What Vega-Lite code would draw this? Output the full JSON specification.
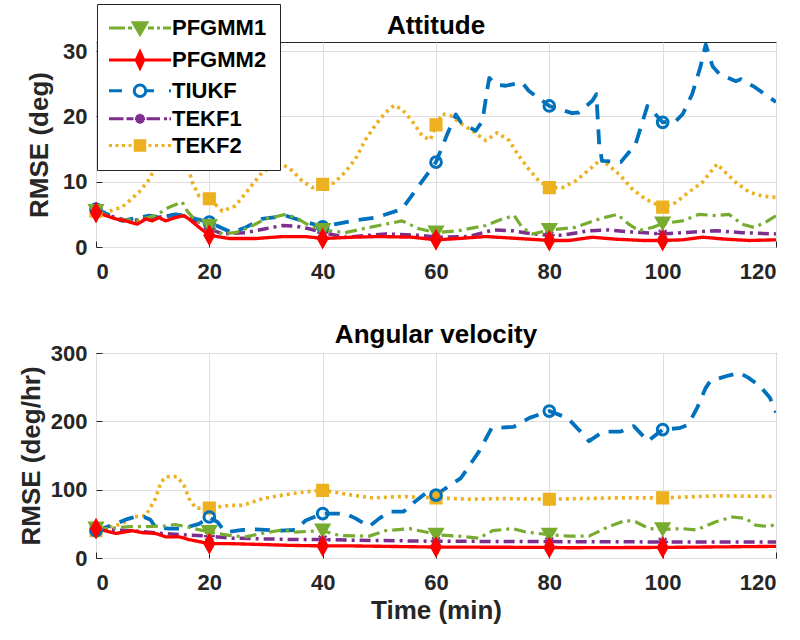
{
"$schema": "https://vega.github.io/schema/vega-lite/v6.json",
"background": "white",
"padding": {"left": 17, "top": 3, "right": 10, "bottom": 5},
"config": {
  "font": "Liberation Sans",
  "view": {"stroke": "#262626", "strokeWidth": 1},
  "axis": {"domain": false, "grid": true, "gridColor": "#DEDEDE", "gridOpacity": 1, "tickColor": "#262626", "tickSize": -6, "tickWidth": 1, "labelFont": "Liberation Sans", "labelFontWeight": "bold", "labelFontSize": 22, "labelColor": "#262626", "titleFont": "Liberation Sans", "titleFontWeight": "bold", "titleFontSize": 26, "titleColor": "#262626"},
  "axisX": {"labelPadding": 20, "titlePadding": 4},
  "axisY": {"labelPadding": 15},
  "title": {"font": "Liberation Sans", "fontSize": 26, "fontWeight": "bold", "color": "black", "offset": 4, "frame": "group"},
  "legend": {"labelFont": "Liberation Sans", "labelFontSize": 22, "labelFontWeight": "bold", "labelColor": "black", "symbolSize": 100, "symbolStrokeWidth": 3, "symbolOffset": 19, "labelOffset": 21, "rowPadding": 4.9, "padding": 13, "fillColor": "white", "strokeColor": "#262626", "symbolOpacity": 1, "labelLimit": 300}
},
"datasets": {
"d": [
{"p":"A","s":"TEKF2","t":0,"v":5.5},{"p":"A","s":"TEKF2","t":1.7,"v":5.3},{"p":"A","s":"TEKF2","t":4.6,"v":6.1},{"p":"A","s":"TEKF2","t":7.6,"v":8.4},{"p":"A","s":"TEKF2","t":9.4,"v":10.4},{"p":"A","s":"TEKF2","t":10.8,"v":12.7},{"p":"A","s":"TEKF2","t":12.5,"v":15.0},{"p":"A","s":"TEKF2","t":13.8,"v":16.0},{"p":"A","s":"TEKF2","t":15.0,"v":14.5},{"p":"A","s":"TEKF2","t":16.1,"v":12.7},{"p":"A","s":"TEKF2","t":17,"v":9.9},{"p":"A","s":"TEKF2","t":18.2,"v":7.8},{"p":"A","s":"TEKF2","t":20,"v":7.4},{"p":"A","s":"TEKF2","t":22.3,"v":5.5},{"p":"A","s":"TEKF2","t":24.6,"v":6.3},{"p":"A","s":"TEKF2","t":27,"v":8.9},{"p":"A","s":"TEKF2","t":29.3,"v":11.4},{"p":"A","s":"TEKF2","t":30.8,"v":12.2},{"p":"A","s":"TEKF2","t":32.9,"v":12.7},{"p":"A","s":"TEKF2","t":34.6,"v":11.7},{"p":"A","s":"TEKF2","t":36.4,"v":10.1},{"p":"A","s":"TEKF2","t":38.2,"v":9.1},{"p":"A","s":"TEKF2","t":40,"v":9.6},{"p":"A","s":"TEKF2","t":42,"v":9.8},{"p":"A","s":"TEKF2","t":44,"v":11.5},{"p":"A","s":"TEKF2","t":45.8,"v":13.5},{"p":"A","s":"TEKF2","t":47.6,"v":16.5},{"p":"A","s":"TEKF2","t":49.4,"v":18.8},{"p":"A","s":"TEKF2","t":51.1,"v":20.6},{"p":"A","s":"TEKF2","t":52.6,"v":21.7},{"p":"A","s":"TEKF2","t":54,"v":21.1},{"p":"A","s":"TEKF2","t":55.8,"v":19.3},{"p":"A","s":"TEKF2","t":57.6,"v":17.0},{"p":"A","s":"TEKF2","t":59,"v":16.4},{"p":"A","s":"TEKF2","t":60,"v":18.7},{"p":"A","s":"TEKF2","t":61.1,"v":20.4},{"p":"A","s":"TEKF2","t":62.6,"v":20.1},{"p":"A","s":"TEKF2","t":64.6,"v":18.8},{"p":"A","s":"TEKF2","t":66.4,"v":17.8},{"p":"A","s":"TEKF2","t":68.8,"v":16.3},{"p":"A","s":"TEKF2","t":70.8,"v":17.5},{"p":"A","s":"TEKF2","t":72.9,"v":16.3},{"p":"A","s":"TEKF2","t":74.6,"v":14.0},{"p":"A","s":"TEKF2","t":76.4,"v":11.9},{"p":"A","s":"TEKF2","t":78.2,"v":10.1},{"p":"A","s":"TEKF2","t":80,"v":9.1},{"p":"A","s":"TEKF2","t":82.3,"v":9.1},{"p":"A","s":"TEKF2","t":84.6,"v":10.1},{"p":"A","s":"TEKF2","t":86.4,"v":11.4},{"p":"A","s":"TEKF2","t":88.2,"v":12.7},{"p":"A","s":"TEKF2","t":89,"v":13.5},{"p":"A","s":"TEKF2","t":90.5,"v":12.5},{"p":"A","s":"TEKF2","t":92.6,"v":10.9},{"p":"A","s":"TEKF2","t":94.6,"v":8.9},{"p":"A","s":"TEKF2","t":97,"v":7.3},{"p":"A","s":"TEKF2","t":100,"v":6.1},{"p":"A","s":"TEKF2","t":102.3,"v":6.8},{"p":"A","s":"TEKF2","t":104.6,"v":8.4},{"p":"A","s":"TEKF2","t":107,"v":9.9},{"p":"A","s":"TEKF2","t":108.2,"v":11.2},{"p":"A","s":"TEKF2","t":109.6,"v":12.7},{"p":"A","s":"TEKF2","t":111.1,"v":11.4},{"p":"A","s":"TEKF2","t":112.9,"v":9.9},{"p":"A","s":"TEKF2","t":115.3,"v":8.4},{"p":"A","s":"TEKF2","t":117.6,"v":7.8},{"p":"A","s":"TEKF2","t":120,"v":7.6},

{"p":"A","s":"TEKF1","t":0,"v":5.3},{"p":"A","s":"TEKF1","t":2.3,"v":4.8},{"p":"A","s":"TEKF1","t":5.8,"v":4.0},{"p":"A","s":"TEKF1","t":10.5,"v":4.5},{"p":"A","s":"TEKF1","t":14.6,"v":5.0},{"p":"A","s":"TEKF1","t":16.4,"v":4.5},{"p":"A","s":"TEKF1","t":18.2,"v":3.8},{"p":"A","s":"TEKF1","t":20,"v":2.8},{"p":"A","s":"TEKF1","t":22.3,"v":2.0},{"p":"A","s":"TEKF1","t":26.4,"v":2.2},{"p":"A","s":"TEKF1","t":29.9,"v":2.8},{"p":"A","s":"TEKF1","t":32.9,"v":3.3},{"p":"A","s":"TEKF1","t":35.2,"v":3.2},{"p":"A","s":"TEKF1","t":37.6,"v":2.8},{"p":"A","s":"TEKF1","t":40,"v":2.2},{"p":"A","s":"TEKF1","t":44,"v":1.5},{"p":"A","s":"TEKF1","t":51.1,"v":2.0},{"p":"A","s":"TEKF1","t":57,"v":1.8},{"p":"A","s":"TEKF1","t":60,"v":1.5},{"p":"A","s":"TEKF1","t":65.8,"v":1.6},{"p":"A","s":"TEKF1","t":70,"v":2.6},{"p":"A","s":"TEKF1","t":73.5,"v":2.5},{"p":"A","s":"TEKF1","t":77,"v":2.0},{"p":"A","s":"TEKF1","t":80,"v":1.8},{"p":"A","s":"TEKF1","t":82.3,"v":1.8},{"p":"A","s":"TEKF1","t":87,"v":2.5},{"p":"A","s":"TEKF1","t":90.5,"v":2.6},{"p":"A","s":"TEKF1","t":94.6,"v":2.3},{"p":"A","s":"TEKF1","t":100,"v":2.0},{"p":"A","s":"TEKF1","t":103.5,"v":2.2},{"p":"A","s":"TEKF1","t":109.4,"v":2.5},{"p":"A","s":"TEKF1","t":114,"v":2.2},{"p":"A","s":"TEKF1","t":120,"v":2.0},

{"p":"A","s":"TIUKF","t":0,"v":5.8},{"p":"A","s":"TIUKF","t":4.6,"v":4.0},{"p":"A","s":"TIUKF","t":9.4,"v":4.8},{"p":"A","s":"TIUKF","t":11.4,"v":4.5},{"p":"A","s":"TIUKF","t":14,"v":5.0},{"p":"A","s":"TIUKF","t":15.8,"v":4.8},{"p":"A","s":"TIUKF","t":17.6,"v":4.3},{"p":"A","s":"TIUKF","t":20,"v":3.8},{"p":"A","s":"TIUKF","t":22,"v":3.0},{"p":"A","s":"TIUKF","t":24,"v":2.2},{"p":"A","s":"TIUKF","t":26.4,"v":3.0},{"p":"A","s":"TIUKF","t":29.3,"v":4.3},{"p":"A","s":"TIUKF","t":33.5,"v":4.8},{"p":"A","s":"TIUKF","t":36.4,"v":4.0},{"p":"A","s":"TIUKF","t":40,"v":3.1},{"p":"A","s":"TIUKF","t":42.3,"v":3.5},{"p":"A","s":"TIUKF","t":45.2,"v":4.0},{"p":"A","s":"TIUKF","t":49.4,"v":4.5},{"p":"A","s":"TIUKF","t":54,"v":5.8},{"p":"A","s":"TIUKF","t":57,"v":9.4},{"p":"A","s":"TIUKF","t":60,"v":13.0},{"p":"A","s":"TIUKF","t":62,"v":17.3},{"p":"A","s":"TIUKF","t":63.5,"v":20.3},{"p":"A","s":"TIUKF","t":64.4,"v":19.1},{"p":"A","s":"TIUKF","t":67,"v":17.8},{"p":"A","s":"TIUKF","t":68.2,"v":19.3},{"p":"A","s":"TIUKF","t":69,"v":23.9},{"p":"A","s":"TIUKF","t":69.4,"v":25.9},{"p":"A","s":"TIUKF","t":70.5,"v":24.9},{"p":"A","s":"TIUKF","t":72.3,"v":24.7},{"p":"A","s":"TIUKF","t":75.2,"v":25.2},{"p":"A","s":"TIUKF","t":76.4,"v":23.9},{"p":"A","s":"TIUKF","t":80,"v":21.6},{"p":"A","s":"TIUKF","t":84,"v":20.5},{"p":"A","s":"TIUKF","t":85.2,"v":20.6},{"p":"A","s":"TIUKF","t":87.6,"v":22.4},{"p":"A","s":"TIUKF","t":88.3,"v":23.4},{"p":"A","s":"TIUKF","t":88.5,"v":20.3},{"p":"A","s":"TIUKF","t":88.8,"v":15.7},{"p":"A","s":"TIUKF","t":89.3,"v":13.2},{"p":"A","s":"TIUKF","t":92.6,"v":13.0},{"p":"A","s":"TIUKF","t":95.2,"v":15.7},{"p":"A","s":"TIUKF","t":97.3,"v":21.6},{"p":"A","s":"TIUKF","t":98.2,"v":20.8},{"p":"A","s":"TIUKF","t":100,"v":19.1},{"p":"A","s":"TIUKF","t":102.3,"v":19.3},{"p":"A","s":"TIUKF","t":103.5,"v":20.3},{"p":"A","s":"TIUKF","t":105.2,"v":23.4},{"p":"A","s":"TIUKF","t":106.7,"v":27.7},{"p":"A","s":"TIUKF","t":107.6,"v":31.0},{"p":"A","s":"TIUKF","t":108.8,"v":27.7},{"p":"A","s":"TIUKF","t":110,"v":26.5},{"p":"A","s":"TIUKF","t":112.9,"v":25.4},{"p":"A","s":"TIUKF","t":113.8,"v":25.7},{"p":"A","s":"TIUKF","t":116.4,"v":24.4},{"p":"A","s":"TIUKF","t":120,"v":22.2},

{"p":"A","s":"PFGMM1","t":0,"v":5.5},{"p":"A","s":"PFGMM1","t":3.5,"v":4.3},{"p":"A","s":"PFGMM1","t":7,"v":4.0},{"p":"A","s":"PFGMM1","t":10.5,"v":4.8},{"p":"A","s":"PFGMM1","t":12.9,"v":6.1},{"p":"A","s":"PFGMM1","t":15.2,"v":6.9},{"p":"A","s":"PFGMM1","t":16.1,"v":5.5},{"p":"A","s":"PFGMM1","t":17.6,"v":4.0},{"p":"A","s":"PFGMM1","t":20,"v":3.2},{"p":"A","s":"PFGMM1","t":22.3,"v":2.0},{"p":"A","s":"PFGMM1","t":24.6,"v":2.2},{"p":"A","s":"PFGMM1","t":27,"v":3.0},{"p":"A","s":"PFGMM1","t":29.9,"v":4.3},{"p":"A","s":"PFGMM1","t":33.5,"v":5.0},{"p":"A","s":"PFGMM1","t":35.2,"v":4.5},{"p":"A","s":"PFGMM1","t":37.6,"v":3.3},{"p":"A","s":"PFGMM1","t":40,"v":2.6},{"p":"A","s":"PFGMM1","t":44,"v":2.2},{"p":"A","s":"PFGMM1","t":48.2,"v":3.0},{"p":"A","s":"PFGMM1","t":54,"v":4.0},{"p":"A","s":"PFGMM1","t":57,"v":2.8},{"p":"A","s":"PFGMM1","t":60,"v":2.2},{"p":"A","s":"PFGMM1","t":64,"v":2.5},{"p":"A","s":"PFGMM1","t":68.8,"v":3.3},{"p":"A","s":"PFGMM1","t":71.7,"v":4.3},{"p":"A","s":"PFGMM1","t":73.8,"v":4.8},{"p":"A","s":"PFGMM1","t":75.2,"v":3.0},{"p":"A","s":"PFGMM1","t":77,"v":2.0},{"p":"A","s":"PFGMM1","t":80,"v":2.6},{"p":"A","s":"PFGMM1","t":84.6,"v":3.0},{"p":"A","s":"PFGMM1","t":88.8,"v":4.3},{"p":"A","s":"PFGMM1","t":92,"v":5.0},{"p":"A","s":"PFGMM1","t":94,"v":3.5},{"p":"A","s":"PFGMM1","t":95.8,"v":2.5},{"p":"A","s":"PFGMM1","t":98.2,"v":3.0},{"p":"A","s":"PFGMM1","t":100,"v":3.6},{"p":"A","s":"PFGMM1","t":103.5,"v":4.0},{"p":"A","s":"PFGMM1","t":106.4,"v":5.0},{"p":"A","s":"PFGMM1","t":109.4,"v":4.8},{"p":"A","s":"PFGMM1","t":111.7,"v":5.0},{"p":"A","s":"PFGMM1","t":114,"v":3.5},{"p":"A","s":"PFGMM1","t":116.1,"v":3.0},{"p":"A","s":"PFGMM1","t":118.2,"v":3.8},{"p":"A","s":"PFGMM1","t":120,"v":4.8},

{"p":"A","s":"PFGMM2","t":0,"v":5.3},{"p":"A","s":"PFGMM2","t":1.1,"v":5.0},{"p":"A","s":"PFGMM2","t":3.5,"v":4.3},{"p":"A","s":"PFGMM2","t":5.2,"v":4.0},{"p":"A","s":"PFGMM2","t":7.3,"v":3.5},{"p":"A","s":"PFGMM2","t":8.8,"v":4.3},{"p":"A","s":"PFGMM2","t":9.9,"v":4.0},{"p":"A","s":"PFGMM2","t":11.1,"v":4.5},{"p":"A","s":"PFGMM2","t":12.3,"v":4.0},{"p":"A","s":"PFGMM2","t":14,"v":4.5},{"p":"A","s":"PFGMM2","t":15.5,"v":4.8},{"p":"A","s":"PFGMM2","t":16.4,"v":4.3},{"p":"A","s":"PFGMM2","t":18.2,"v":3.0},{"p":"A","s":"PFGMM2","t":20,"v":1.8},{"p":"A","s":"PFGMM2","t":23.5,"v":1.3},{"p":"A","s":"PFGMM2","t":28.2,"v":1.3},{"p":"A","s":"PFGMM2","t":32.9,"v":1.6},{"p":"A","s":"PFGMM2","t":37,"v":1.6},{"p":"A","s":"PFGMM2","t":40,"v":1.3},{"p":"A","s":"PFGMM2","t":45.2,"v":1.5},{"p":"A","s":"PFGMM2","t":50,"v":1.6},{"p":"A","s":"PFGMM2","t":55.8,"v":1.5},{"p":"A","s":"PFGMM2","t":60,"v":1.1},{"p":"A","s":"PFGMM2","t":64,"v":1.3},{"p":"A","s":"PFGMM2","t":68.8,"v":1.6},{"p":"A","s":"PFGMM2","t":74.6,"v":1.3},{"p":"A","s":"PFGMM2","t":80,"v":1.0},{"p":"A","s":"PFGMM2","t":83.5,"v":1.0},{"p":"A","s":"PFGMM2","t":87.6,"v":1.5},{"p":"A","s":"PFGMM2","t":91.7,"v":1.2},{"p":"A","s":"PFGMM2","t":96.4,"v":1.0},{"p":"A","s":"PFGMM2","t":100,"v":1.0},{"p":"A","s":"PFGMM2","t":103.5,"v":1.1},{"p":"A","s":"PFGMM2","t":107,"v":1.5},{"p":"A","s":"PFGMM2","t":111.1,"v":1.2},{"p":"A","s":"PFGMM2","t":115.3,"v":1.0},{"p":"A","s":"PFGMM2","t":120,"v":1.1},

{"p":"B","s":"TEKF2","t":0,"v":40},{"p":"B","s":"TEKF2","t":4.6,"v":50},{"p":"B","s":"TEKF2","t":6.4,"v":60},{"p":"B","s":"TEKF2","t":8.8,"v":62},{"p":"B","s":"TEKF2","t":10.5,"v":87},{"p":"B","s":"TEKF2","t":11.4,"v":110},{"p":"B","s":"TEKF2","t":12.3,"v":119},{"p":"B","s":"TEKF2","t":14.3,"v":119},{"p":"B","s":"TEKF2","t":15.5,"v":107},{"p":"B","s":"TEKF2","t":16.4,"v":87},{"p":"B","s":"TEKF2","t":17.6,"v":73},{"p":"B","s":"TEKF2","t":20,"v":73},{"p":"B","s":"TEKF2","t":23.5,"v":77},{"p":"B","s":"TEKF2","t":25.9,"v":77},{"p":"B","s":"TEKF2","t":29.4,"v":87},{"p":"B","s":"TEKF2","t":32.9,"v":92},{"p":"B","s":"TEKF2","t":37,"v":97},{"p":"B","s":"TEKF2","t":40,"v":99},{"p":"B","s":"TEKF2","t":41.6,"v":97},{"p":"B","s":"TEKF2","t":45.2,"v":92},{"p":"B","s":"TEKF2","t":48.8,"v":88},{"p":"B","s":"TEKF2","t":54,"v":90},{"p":"B","s":"TEKF2","t":60,"v":88},{"p":"B","s":"TEKF2","t":65.8,"v":86},{"p":"B","s":"TEKF2","t":71.7,"v":87},{"p":"B","s":"TEKF2","t":80,"v":86},{"p":"B","s":"TEKF2","t":91.7,"v":88},{"p":"B","s":"TEKF2","t":100,"v":88},{"p":"B","s":"TEKF2","t":109.4,"v":91},{"p":"B","s":"TEKF2","t":120,"v":90},

{"p":"B","s":"TEKF1","t":0,"v":43},{"p":"B","s":"TEKF1","t":3.5,"v":41},{"p":"B","s":"TEKF1","t":7.6,"v":39},{"p":"B","s":"TEKF1","t":11.6,"v":36},{"p":"B","s":"TEKF1","t":15.2,"v":34},{"p":"B","s":"TEKF1","t":20,"v":32},{"p":"B","s":"TEKF1","t":24,"v":29},{"p":"B","s":"TEKF1","t":29.4,"v":28},{"p":"B","s":"TEKF1","t":35.2,"v":27},{"p":"B","s":"TEKF1","t":40,"v":27},{"p":"B","s":"TEKF1","t":45.2,"v":26},{"p":"B","s":"TEKF1","t":60,"v":24.5},{"p":"B","s":"TEKF1","t":80,"v":24},{"p":"B","s":"TEKF1","t":100,"v":23.5},{"p":"B","s":"TEKF1","t":120,"v":23.5},

{"p":"B","s":"TIUKF","t":0,"v":40},{"p":"B","s":"TIUKF","t":3.5,"v":50},{"p":"B","s":"TIUKF","t":5.5,"v":57},{"p":"B","s":"TIUKF","t":6.8,"v":60},{"p":"B","s":"TIUKF","t":8.5,"v":60},{"p":"B","s":"TIUKF","t":9.6,"v":56},{"p":"B","s":"TIUKF","t":10.5,"v":45},{"p":"B","s":"TIUKF","t":12.9,"v":43},{"p":"B","s":"TIUKF","t":15.2,"v":43},{"p":"B","s":"TIUKF","t":18.2,"v":50},{"p":"B","s":"TIUKF","t":20,"v":60},{"p":"B","s":"TIUKF","t":21.5,"v":52},{"p":"B","s":"TIUKF","t":22.3,"v":43},{"p":"B","s":"TIUKF","t":22.9,"v":38},{"p":"B","s":"TIUKF","t":25.9,"v":41},{"p":"B","s":"TIUKF","t":28.2,"v":42},{"p":"B","s":"TIUKF","t":32,"v":40},{"p":"B","s":"TIUKF","t":35.2,"v":41},{"p":"B","s":"TIUKF","t":37,"v":55},{"p":"B","s":"TIUKF","t":40,"v":65},{"p":"B","s":"TIUKF","t":44,"v":65},{"p":"B","s":"TIUKF","t":45.8,"v":58},{"p":"B","s":"TIUKF","t":48.2,"v":46},{"p":"B","s":"TIUKF","t":50,"v":58},{"p":"B","s":"TIUKF","t":51.9,"v":68},{"p":"B","s":"TIUKF","t":54.3,"v":68},{"p":"B","s":"TIUKF","t":56.2,"v":82},{"p":"B","s":"TIUKF","t":58.2,"v":95},{"p":"B","s":"TIUKF","t":60,"v":92},{"p":"B","s":"TIUKF","t":61.7,"v":102},{"p":"B","s":"TIUKF","t":64.4,"v":117},{"p":"B","s":"TIUKF","t":65.8,"v":134},{"p":"B","s":"TIUKF","t":67.6,"v":156},{"p":"B","s":"TIUKF","t":69.8,"v":190},{"p":"B","s":"TIUKF","t":73.7,"v":192},{"p":"B","s":"TIUKF","t":76.5,"v":205},{"p":"B","s":"TIUKF","t":80,"v":215},{"p":"B","s":"TIUKF","t":83.2,"v":205},{"p":"B","s":"TIUKF","t":85.5,"v":185},{"p":"B","s":"TIUKF","t":87,"v":171},{"p":"B","s":"TIUKF","t":89.5,"v":185},{"p":"B","s":"TIUKF","t":92.6,"v":185},{"p":"B","s":"TIUKF","t":94.9,"v":193},{"p":"B","s":"TIUKF","t":97.4,"v":171},{"p":"B","s":"TIUKF","t":100,"v":188},{"p":"B","s":"TIUKF","t":102.9,"v":190},{"p":"B","s":"TIUKF","t":104.5,"v":195},{"p":"B","s":"TIUKF","t":106.1,"v":220},{"p":"B","s":"TIUKF","t":107.6,"v":249},{"p":"B","s":"TIUKF","t":108.4,"v":259},{"p":"B","s":"TIUKF","t":111.6,"v":267},{"p":"B","s":"TIUKF","t":113.5,"v":271},{"p":"B","s":"TIUKF","t":115.1,"v":264},{"p":"B","s":"TIUKF","t":117.1,"v":252},{"p":"B","s":"TIUKF","t":118.9,"v":235},{"p":"B","s":"TIUKF","t":120,"v":213},

{"p":"B","s":"PFGMM1","t":0,"v":43},{"p":"B","s":"PFGMM1","t":2.3,"v":43},{"p":"B","s":"PFGMM1","t":5.8,"v":46},{"p":"B","s":"PFGMM1","t":8.8,"v":46},{"p":"B","s":"PFGMM1","t":12.3,"v":47},{"p":"B","s":"PFGMM1","t":14,"v":49},{"p":"B","s":"PFGMM1","t":15.8,"v":46},{"p":"B","s":"PFGMM1","t":20,"v":38},{"p":"B","s":"PFGMM1","t":23.5,"v":33},{"p":"B","s":"PFGMM1","t":26.4,"v":31},{"p":"B","s":"PFGMM1","t":29.9,"v":37},{"p":"B","s":"PFGMM1","t":32.9,"v":41},{"p":"B","s":"PFGMM1","t":35.2,"v":38},{"p":"B","s":"PFGMM1","t":40,"v":40},{"p":"B","s":"PFGMM1","t":42.9,"v":33},{"p":"B","s":"PFGMM1","t":48.2,"v":32},{"p":"B","s":"PFGMM1","t":51.1,"v":40},{"p":"B","s":"PFGMM1","t":55.3,"v":43},{"p":"B","s":"PFGMM1","t":58.2,"v":38},{"p":"B","s":"PFGMM1","t":60,"v":34},{"p":"B","s":"PFGMM1","t":64,"v":32},{"p":"B","s":"PFGMM1","t":67.6,"v":29},{"p":"B","s":"PFGMM1","t":70,"v":40},{"p":"B","s":"PFGMM1","t":73.5,"v":43},{"p":"B","s":"PFGMM1","t":75.9,"v":38},{"p":"B","s":"PFGMM1","t":80,"v":34},{"p":"B","s":"PFGMM1","t":83.5,"v":32},{"p":"B","s":"PFGMM1","t":87,"v":32},{"p":"B","s":"PFGMM1","t":90.5,"v":46},{"p":"B","s":"PFGMM1","t":93.4,"v":55},{"p":"B","s":"PFGMM1","t":95.2,"v":53},{"p":"B","s":"PFGMM1","t":97.6,"v":43},{"p":"B","s":"PFGMM1","t":100,"v":42},{"p":"B","s":"PFGMM1","t":103.5,"v":43},{"p":"B","s":"PFGMM1","t":105.9,"v":41},{"p":"B","s":"PFGMM1","t":109.4,"v":53},{"p":"B","s":"PFGMM1","t":112.3,"v":60},{"p":"B","s":"PFGMM1","t":114.6,"v":58},{"p":"B","s":"PFGMM1","t":116.4,"v":48},{"p":"B","s":"PFGMM1","t":118.8,"v":46},{"p":"B","s":"PFGMM1","t":120,"v":50},

{"p":"B","s":"PFGMM2","t":0,"v":43},{"p":"B","s":"PFGMM2","t":3.5,"v":36},{"p":"B","s":"PFGMM2","t":6.4,"v":40},{"p":"B","s":"PFGMM2","t":8.2,"v":37},{"p":"B","s":"PFGMM2","t":10.5,"v":36},{"p":"B","s":"PFGMM2","t":12.3,"v":31},{"p":"B","s":"PFGMM2","t":14.7,"v":31},{"p":"B","s":"PFGMM2","t":16.4,"v":27},{"p":"B","s":"PFGMM2","t":20,"v":21},{"p":"B","s":"PFGMM2","t":23.5,"v":21},{"p":"B","s":"PFGMM2","t":28.2,"v":20},{"p":"B","s":"PFGMM2","t":34,"v":18.5},{"p":"B","s":"PFGMM2","t":40,"v":17.7},{"p":"B","s":"PFGMM2","t":45.2,"v":17.7},{"p":"B","s":"PFGMM2","t":60,"v":16},{"p":"B","s":"PFGMM2","t":80,"v":15.5},{"p":"B","s":"PFGMM2","t":83.5,"v":15},{"p":"B","s":"PFGMM2","t":100,"v":15.5},{"p":"B","s":"PFGMM2","t":120,"v":17}
]
},
"data": {"name": "d"},
"spacing": 38,
"resolve": {"scale": {"x": "independent", "y": "independent", "fill": "independent", "stroke": "independent", "shape": "independent", "color": "independent", "strokeDash": "independent", "strokeWidth": "independent"}, "legend": {"fill": "independent", "stroke": "independent", "shape": "independent"}},
"vconcat": [
{
  "width": 680, "height": 205,
  "title": {"text": "Attitude", "offset": -35},
  "transform": [{"filter": "datum.p == 'A'"}],
  "encoding": {
    "x": {"field": "t", "type": "quantitative", "scale": {"domain": [0, 120], "nice": false}, "axis": {"values": [0, 20, 40, 60, 80, 100, 120], "title": null}},
    "y": {"field": "v", "type": "quantitative", "scale": {"domain": [0, 31.4], "nice": false}, "axis": {"values": [0, 10, 20, 30], "title": "RMSE (deg)", "titlePadding": 10}}
  },
  "layer": [
    {"mark": {"type": "line", "clip": true, "strokeJoin": "round"},
     "encoding": {
       "color": {"field": "s", "type": "nominal", "scale": {"range": ["#77AC30","#FF0000","#7E2F8E","#EDB120","#0072BD"]}, "legend": null},
       "strokeDash": {"field": "s", "type": "nominal", "scale": {"range": [[12,5,3,5],[1,0],[11,5,3,5],[3,4],[15,10]]}, "legend": null},
       "strokeWidth": {"field": "s", "type": "nominal", "scale": {"range": [3.2,3.8,3.2,3.2,3.2]}, "legend": null}
     }},
    {"transform": [{"filter": {"and": [{"field": "s", "equal": "TEKF2"}, {"field": "t", "oneOf": [0,20,40,60,80,100]}]}}],
     "mark": {"type": "point", "shape": "square", "filled": true, "color": "#EDB120", "stroke": "#EDB120", "strokeWidth": 1.5, "size": 135, "opacity": 1}},
    {"transform": [{"filter": {"and": [{"field": "s", "equal": "TEKF1"}, {"field": "t", "oneOf": [0,20,40,60,80,100]}]}}],
     "mark": {"type": "point", "shape": "M-1,0H1M0,-1V1M-0.7,-0.7L0.7,0.7M-0.7,0.7L0.7,-0.7", "filled": false, "color": "#7E2F8E", "strokeWidth": 2.2, "size": 120, "opacity": 1}},
    {"transform": [{"filter": {"and": [{"field": "s", "equal": "TIUKF"}, {"field": "t", "oneOf": [0,20,40,60,80,100]}]}}],
     "mark": {"type": "point", "shape": "circle", "filled": false, "color": "#0072BD", "strokeWidth": 3, "size": 115, "opacity": 1}},
    {"transform": [{"filter": {"and": [{"field": "s", "equal": "PFGMM1"}, {"field": "t", "oneOf": [0,20,40,60,80,100]}]}}],
     "mark": {"type": "point", "shape": "triangle-down", "filled": true, "color": "#77AC30", "stroke": "#77AC30", "strokeWidth": 1.5, "size": 215, "opacity": 1}},
    {"transform": [{"filter": {"and": [{"field": "s", "equal": "PFGMM2"}, {"field": "t", "oneOf": [0,20,40,60,80,100]}]}}],
     "mark": {"type": "point", "shape": "M0,-1.8L1,0L0,1.8L-1,0Z", "filled": true, "color": "#FF0000", "stroke": "#FF0000", "strokeWidth": 1.5, "size": 110, "opacity": 1}},
    {"transform": [{"filter": {"field": "t", "equal": 0}}],
     "mark": {"type": "point", "filled": true, "fillOpacity": 0, "strokeOpacity": 0, "size": 100, "strokeWidth": 3},
     "encoding": {
       "fill": {"field": "s", "type": "nominal", "scale": {"domain": ["PFGMM1","PFGMM2","TIUKF","TEKF1","TEKF2"], "range": ["#77AC30","#FF0000","white","#7E2F8E","#EDB120"]}, "legend": {"orient": "none", "legendX": 1, "legendY": -38, "title": null, "symbolOpacity": 1}},
       "stroke": {"field": "s", "type": "nominal", "scale": {"domain": ["PFGMM1","PFGMM2","TIUKF","TEKF1","TEKF2"], "range": ["#77AC30","#FF0000","#0072BD","#7E2F8E","#EDB120"]}, "legend": {"orient": "none", "legendX": 1, "legendY": -38, "title": null, "symbolOpacity": 1}},
       "shape": {"field": "s", "type": "nominal", "scale": {"domain": ["PFGMM1","PFGMM2","TIUKF","TEKF1","TEKF2"], "range": [
         "M-6.2,0H-3M-2.4,0H-1.6M1.6,0H2.8M3.4,0H4M4.6,0H6.2M-1.35,-1.05L1.35,-1.05L0,1.25Z",
         "M-6.2,0H6.2M0,-1.6L0.75,0L0,1.6L-0.75,0Z",
         "M-6.2,0H-3.6M1.3,0H2.8M5.8,0H6.2M1.15,0A1.15,1.15,0,1,1,-1.15,0A1.15,1.15,0,1,1,1.15,0Z",
         "M-6.2,0H-3.3M-2.7,0H-1.3M1.3,0H4M4.8,0H5.4M5.9,0H6.2M-1,0H1M0,-1V1M-0.7,-0.7L0.7,0.7M-0.7,0.7L0.7,-0.7",
         "M-6.2,0H-5.6M-4.9,0H-4.3M-3.6,0H-3M-2.3,0H-1.7M1.7,0H2.3M3,0H3.6M4.3,0H4.9M5.6,0H6.2M-0.95,-0.95H0.95V0.95H-0.95Z"
       ]}, "legend": {"orient": "none", "legendX": 1, "legendY": -38, "title": null, "symbolOpacity": 1}}
     }}
  ]
},
{
  "width": 680, "height": 205,
  "title": {"text": "Angular velocity", "offset": -6},
  "transform": [{"filter": "datum.p == 'B'"}],
  "encoding": {
    "x": {"field": "t", "type": "quantitative", "scale": {"domain": [0, 120], "nice": false}, "axis": {"values": [0, 20, 40, 60, 80, 100, 120], "title": "Time (min)"}},
    "y": {"field": "v", "type": "quantitative", "scale": {"domain": [0, 300], "nice": false}, "axis": {"values": [0, 100, 200, 300], "title": "RMSE (deg/hr)", "titlePadding": 6}}
  },
  "layer": [
    {"mark": {"type": "line", "clip": true, "strokeJoin": "round"},
     "encoding": {
       "color": {"field": "s", "type": "nominal", "scale": {"range": ["#77AC30","#FF0000","#7E2F8E","#EDB120","#0072BD"]}, "legend": null},
       "strokeDash": {"field": "s", "type": "nominal", "scale": {"range": [[12,5,3,5],[1,0],[11,5,3,5],[3,4],[15,10]]}, "legend": null},
       "strokeWidth": {"field": "s", "type": "nominal", "scale": {"range": [3.2,3.8,3.2,3.2,3.2]}, "legend": null}
     }},
    {"transform": [{"filter": {"and": [{"field": "s", "equal": "TEKF2"}, {"field": "t", "oneOf": [0,20,40,60,80,100]}]}}],
     "mark": {"type": "point", "shape": "square", "filled": true, "color": "#EDB120", "stroke": "#EDB120", "strokeWidth": 1.5, "size": 135, "opacity": 1}},
    {"transform": [{"filter": {"and": [{"field": "s", "equal": "TEKF1"}, {"field": "t", "oneOf": [0,20,40,60,80,100]}]}}],
     "mark": {"type": "point", "shape": "M-1,0H1M0,-1V1M-0.7,-0.7L0.7,0.7M-0.7,0.7L0.7,-0.7", "filled": false, "color": "#7E2F8E", "strokeWidth": 2.2, "size": 120, "opacity": 1}},
    {"transform": [{"filter": {"and": [{"field": "s", "equal": "TIUKF"}, {"field": "t", "oneOf": [0,20,40,60,80,100]}]}}],
     "mark": {"type": "point", "shape": "circle", "filled": false, "color": "#0072BD", "strokeWidth": 3, "size": 115, "opacity": 1}},
    {"transform": [{"filter": {"and": [{"field": "s", "equal": "PFGMM1"}, {"field": "t", "oneOf": [0,20,40,60,80,100]}]}}],
     "mark": {"type": "point", "shape": "triangle-down", "filled": true, "color": "#77AC30", "stroke": "#77AC30", "strokeWidth": 1.5, "size": 215, "opacity": 1}},
    {"transform": [{"filter": {"and": [{"field": "s", "equal": "PFGMM2"}, {"field": "t", "oneOf": [0,20,40,60,80,100]}]}}],
     "mark": {"type": "point", "shape": "M0,-1.8L1,0L0,1.8L-1,0Z", "filled": true, "color": "#FF0000", "stroke": "#FF0000", "strokeWidth": 1.5, "size": 110, "opacity": 1}}
  ]
}
]
}
